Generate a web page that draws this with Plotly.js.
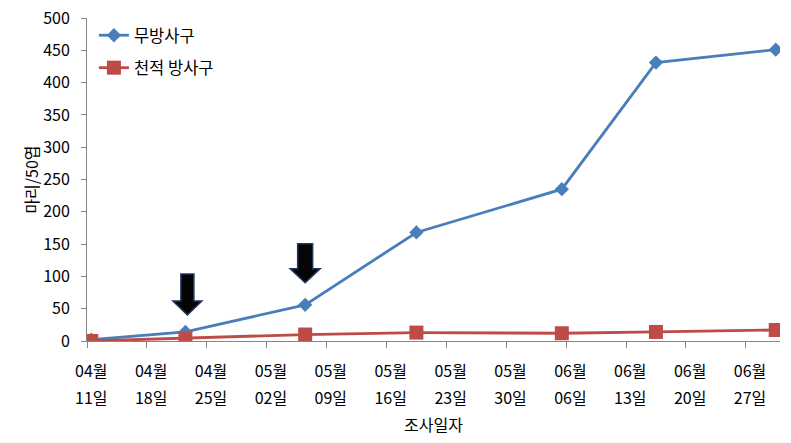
<!DOCTYPE html>
<html><head><meta charset="utf-8">
<script src="https://cdn.plot.ly/plotly-3.0.1.min.js"></script>
<style>body{margin:0;background:#fff}</style>
</head><body><div id="chart" style="width:791px;height:443px"></div>
<script>
const surveyDates = ['2013-04-11','2013-04-22','2013-05-06','2013-05-19','2013-06-05','2013-06-16','2013-06-30'];
const controlValues = [2, 14, 56, 168, 235, 431, 451];
const releaseValues = [0, 4, 10, 13, 12, 14, 17];
const seriesNames = ['무방사구', '천적 방사구'];
const tickDates = ['2013-04-11','2013-04-18','2013-04-25','2013-05-02','2013-05-09','2013-05-16','2013-05-23','2013-05-30','2013-06-06','2013-06-13','2013-06-20','2013-06-27'];
const monthLabels = ['04월','04월','04월','05월','05월','05월','05월','05월','06월','06월','06월','06월'];
const dayLabels = ['11일','18일','25일','02일','09일','16일','23일','30일','06일','13일','20일','27일'];
const arrowDateIdx = [1, 2];

const FONT = 'Noto Sans CJK KR, sans-serif';
const mid = d => d + ' 12:00';
const xs = surveyDates.map(mid);
const tv = tickDates.map(mid);

const traces = [
  {x: xs, y: controlValues, name: seriesNames[0], type: 'scatter', mode: 'lines+markers',
   legendgroup: 'a', line: {color: '#4A7EBB', width: 2.8}, marker: {symbol: 'diamond', size: 11, color: '#4A7EBB'}},
  {x: xs, y: releaseValues, name: seriesNames[1], type: 'scatter', mode: 'lines+markers',
   legendgroup: 'b', line: {color: '#BE4B48', width: 2.8}, marker: {symbol: 'square', size: 14, color: '#BE4B48'}},
  {x: tv, y: tv.map(() => null), xaxis: 'x2', mode: 'none', showlegend: false, hoverinfo: 'skip'}
];

function arrow(i, tipOff, baseOff, topOff, shaftHalf, headHalf, dx) {
  const p = `M ${dx-shaftHalf} ${topOff} L ${dx+shaftHalf} ${topOff} L ${dx+shaftHalf} ${baseOff} L ${dx+headHalf} ${baseOff} L ${dx} ${tipOff} L ${dx-headHalf} ${baseOff} L ${dx-shaftHalf} ${baseOff} Z`;
  return {type: 'path', xref: 'x', yref: 'y', xsizemode: 'pixel', ysizemode: 'pixel',
    xanchor: xs[i], yanchor: controlValues[i], path: p,
    fillcolor: '#050505', line: {color: '#1F3A60', width: 1.5}};
}
const shapes = [
  arrow(arrowDateIdx[0], 17, 31, 58, 6.5, 14.5, 2),
  arrow(arrowDateIdx[1], 22, 36, 61, 7.5, 15, 0)
];

const range = ['2013-04-11', '2013-07-01'];
const layout = {
  width: 791, height: 443,
  margin: {l: 87, r: 11, t: 18, b: 102},
  paper_bgcolor: '#fff', plot_bgcolor: '#fff',
  font: {family: FONT, size: 16, color: '#000'},
  showlegend: true,
  legend: {x: 0.01, y: 1.0, xanchor: 'left', yanchor: 'top', bgcolor: 'rgba(0,0,0,0)',
    font: {size: 16.5}, traceorder: 'grouped', tracegroupgap: 8, itemwidth: 30},
  xaxis: {type: 'date', range: range, tickmode: 'array', tickvals: tv, ticktext: monthLabels,
    ticks: '', showgrid: false, zeroline: false, showline: true, linecolor: '#868686', linewidth: 1,
    tickfont: {size: 16}, ticklabelstandoff: 16,
    minor: {tick0: '2013-04-11', dtick: 7*86400000, ticks: 'outside', ticklen: 6, tickcolor: '#868686', tickwidth: 1, showgrid: false},
    title: {text: '조사일자', font: {size: 16}, standoff: 38}},
  xaxis2: {type: 'date', overlaying: 'x', side: 'bottom', anchor: 'y', range: range, tickmode: 'array', tickvals: tv, ticktext: dayLabels,
    ticks: '', showgrid: false, zeroline: false, showline: false, tickfont: {size: 16}, ticklabelstandoff: 46},
  yaxis: {range: [0, 500], dtick: 50, tick0: 0, ticks: 'outside', ticklen: 5, tickcolor: '#868686',
    showgrid: false, zeroline: false, showline: true, linecolor: '#868686', linewidth: 1,
    tickfont: {size: 16}, ticklabelstandoff: 8,
    title: {text: '마리/50엽', font: {size: 16}, standoff: 0}},
  shapes: shapes
};
Plotly.newPlot('chart', traces, layout, {displayModeBar: false, staticPlot: true});
</script></body></html>
